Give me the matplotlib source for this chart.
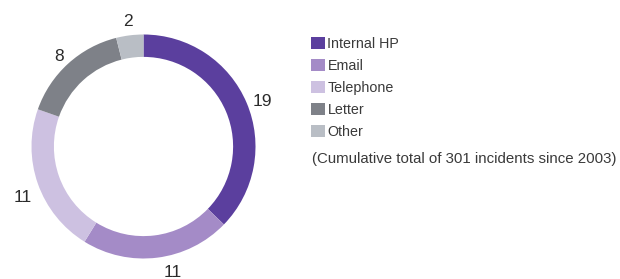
import matplotlib
matplotlib.use("Agg")
import matplotlib.pyplot as plt
import numpy as np

categories = ["Internal HP", "Email", "Telephone", "Letter", "Other"]
values = [19, 11, 11, 8, 2]
colors = ["#5b3f9e", "#a48bc7", "#cdc1e1", "#7e8188", "#b9bec5"]
note = "(Cumulative total of 301 incidents since 2003)"

# label placement style (angle shift in degrees, radial distance)
label_shift = [-1.5, 6, 3, 0.5, 0]
label_dist = [1.14, 1.14, 1.17, 1.115, 1.14]

plt.rcParams['font.family'] = ['Liberation Sans', 'DejaVu Sans']

W, H = 620, 279
fig = plt.figure(figsize=(W / 100, H / 100), dpi=100)
cx, cy, r = 143.5, 146.5, 112
ax = fig.add_axes([(cx - r) / W, (H - cy - r) / H, 2 * r / W, 2 * r / H])

wedges, = ax.pie(values, colors=colors, startangle=90, counterclock=False,
                 wedgeprops=dict(width=0.2, linewidth=0))[:1]
for w, v, s, d in zip(wedges, values, label_shift, label_dist):
    ang = np.deg2rad((w.theta1 + w.theta2) / 2 + s)
    ax.text(d * np.cos(ang), d * np.sin(ang), str(v), ha='center', va='center_baseline',
            fontsize=12.5, color='#2b2b2b', clip_on=False)
ax.set_xlim(-1, 1)
ax.set_ylim(-1, 1)
ax.set_aspect('equal')
ax.axis('off')

leg = fig.legend(wedges, categories, loc='upper left', bbox_to_anchor=(311 / W, 1 - 37 / H),
                 frameon=False, fontsize=10.3, handlelength=0.95, handleheight=0.95,
                 handletextpad=0.2, labelspacing=0.55, borderaxespad=0, borderpad=0)
for t in leg.get_texts():
    t.set_color('#3a3a3a')

fig.text(312 / W, 1 - 158.5 / H, note, fontsize=10.8, color='#3a3a3a', ha='left', va='center')

fig.savefig("out.png", dpi=100)
